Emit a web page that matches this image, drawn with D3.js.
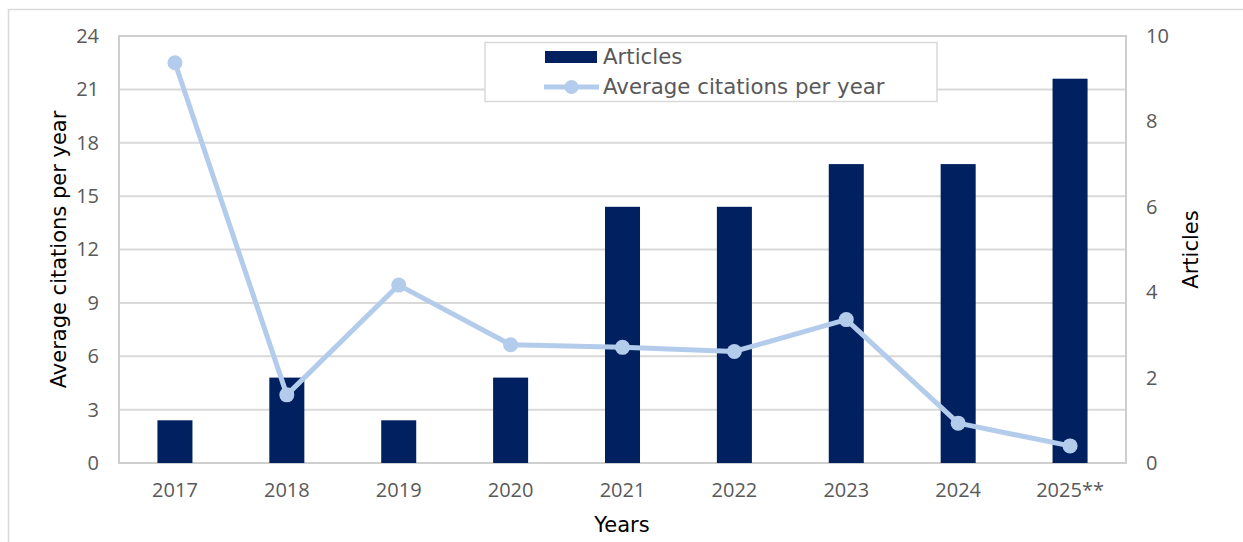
<!DOCTYPE html>
<html>
<head>
<meta charset="utf-8">
<script src="https://cdn.jsdelivr.net/npm/d3@7"></script>
<style>
  body { margin: 0; background: #fff; }
  svg { display: block; }
</style>
</head>
<body>
<script>
// data
var years = ["2017", "2018", "2019", "2020", "2021", "2022", "2023", "2024", "2025**"];
var articles = [1, 2, 1, 2, 6, 6, 7, 7, 9];
var avgCitations = [22.5, 3.83, 10, 6.65, 6.5, 6.27, 8.06, 2.24, 0.96];
var leftTicks = [0, 3, 6, 9, 12, 15, 18, 21, 24];
var rightTicks = [0, 2, 4, 6, 8, 10];

var width = 1243, height = 542;
var margin = {top: 36, right: 117, bottom: 79, left: 119};

var svg = d3.select("body").append("svg")
            .attr("width", width)
            .attr("height", height);

// outer chart frame (cropped on right and bottom)
svg.append("rect")
   .attr("x", 8.5).attr("y", 9.5)
   .attr("width", 1400).attr("height", 800)
   .attr("fill", "none")
   .attr("stroke", "#d9d9d9")
   .attr("stroke-width", 1.5);

var x = d3.scaleBand()
          .domain(years)
          .range([margin.left, width - margin.right])
          .paddingInner(0.687)
          .paddingOuter(0.3435);

var xPoint = function (d) { return x(d) + x.bandwidth() / 2; };

var yLeft = d3.scaleLinear().domain([0, 24]).range([height - margin.bottom, margin.top]);
var yRight = d3.scaleLinear().domain([0, 10]).range([height - margin.bottom, margin.top]);

var tickFont = "'Open Sans', 'Liberation Sans', sans-serif";
var titleFont = "'DejaVu Sans', Verdana, sans-serif";

// gridlines
svg.append("g")
   .selectAll("line").data(leftTicks).enter().append("line")
   .attr("x1", margin.left).attr("x2", width - margin.right)
   .attr("y1", function (d) { return yLeft(d); })
   .attr("y2", function (d) { return yLeft(d); })
   .attr("stroke", "#d9d9d9")
   .attr("stroke-width", 2);

// plot border
svg.append("rect")
   .attr("x", margin.left).attr("y", margin.top)
   .attr("width", width - margin.right - margin.left)
   .attr("height", height - margin.bottom - margin.top)
   .attr("fill", "none")
   .attr("stroke", "#cfcfcf")
   .attr("stroke-width", 2);

// bars
svg.append("g")
   .selectAll("rect").data(articles).enter().append("rect")
   .attr("x", function (d, i) { return x(years[i]); })
   .attr("y", function (d) { return yRight(d); })
   .attr("width", x.bandwidth())
   .attr("height", function (d) { return yRight(0) - yRight(d); })
   .attr("fill", "#002060");

// line
var lineColor = "#b4cceb";
var line = d3.line()
             .x(function (d, i) { return xPoint(years[i]); })
             .y(function (d) { return yLeft(d); });

svg.append("path")
   .datum(avgCitations)
   .attr("d", line)
   .attr("fill", "none")
   .attr("stroke", lineColor)
   .attr("stroke-width", 5)
   .attr("stroke-linejoin", "round");

svg.append("g")
   .selectAll("circle").data(avgCitations).enter().append("circle")
   .attr("cx", function (d, i) { return xPoint(years[i]); })
   .attr("cy", function (d) { return yLeft(d); })
   .attr("r", 7.5)
   .attr("fill", lineColor);

// axes
var leftAxis = svg.append("g")
   .attr("transform", "translate(" + margin.left + ",0)")
   .call(d3.axisLeft(yLeft).tickValues(leftTicks).tickSize(0).tickPadding(20));

var rightAxis = svg.append("g")
   .attr("transform", "translate(" + (width - margin.right) + ",0)")
   .call(d3.axisRight(yRight).tickValues(rightTicks).tickSize(0).tickPadding(20));

var bottomAxis = svg.append("g")
   .attr("transform", "translate(0," + (height - margin.bottom) + ")")
   .call(d3.axisBottom(x).tickSize(0).tickPadding(20));

[leftAxis, rightAxis, bottomAxis].forEach(function (a) {
  a.select(".domain").remove();
  a.selectAll("text")
   .attr("font-family", tickFont)
   .attr("font-size", 20)
   .attr("fill", "#595959");
});

// axis titles
svg.append("text")
   .attr("transform", "translate(66," + ((margin.top + height - margin.bottom) / 2) + ") rotate(-90)")
   .attr("text-anchor", "middle")
   .attr("font-family", titleFont)
   .attr("font-size", 21)
   .attr("fill", "#000")
   .text("Average citations per year");

svg.append("text")
   .attr("transform", "translate(1198," + ((margin.top + height - margin.bottom) / 2) + ") rotate(-90)")
   .attr("text-anchor", "middle")
   .attr("font-family", titleFont)
   .attr("font-size", 21)
   .attr("fill", "#000")
   .text("Articles");

svg.append("text")
   .attr("x", 622).attr("y", 532)
   .attr("text-anchor", "middle")
   .attr("font-family", titleFont)
   .attr("font-size", 21)
   .attr("fill", "#000")
   .text("Years");

// legend
var legend = svg.append("g");
legend.append("rect")
   .attr("x", 485).attr("y", 42.5)
   .attr("width", 452).attr("height", 59)
   .attr("fill", "#fff")
   .attr("stroke", "#d9d9d9")
   .attr("stroke-width", 1.5);

legend.append("rect")
   .attr("x", 545).attr("y", 51)
   .attr("width", 52).attr("height", 12)
   .attr("fill", "#002060");

legend.append("line")
   .attr("x1", 544).attr("x2", 599)
   .attr("y1", 87).attr("y2", 87)
   .attr("stroke", lineColor)
   .attr("stroke-width", 5);

legend.append("circle")
   .attr("cx", 571.5).attr("cy", 87).attr("r", 7)
   .attr("fill", lineColor);

legend.selectAll("text.lbl").data(["Articles", "Average citations per year"]).enter().append("text")
   .attr("class", "lbl")
   .attr("x", 603)
   .attr("y", function (d, i) { return 64 + i * 30; })
   .attr("font-family", titleFont)
   .attr("font-size", 21.3)
   .attr("fill", "#595959")
   .text(function (d) { return d; });
</script>
</body>
</html>
